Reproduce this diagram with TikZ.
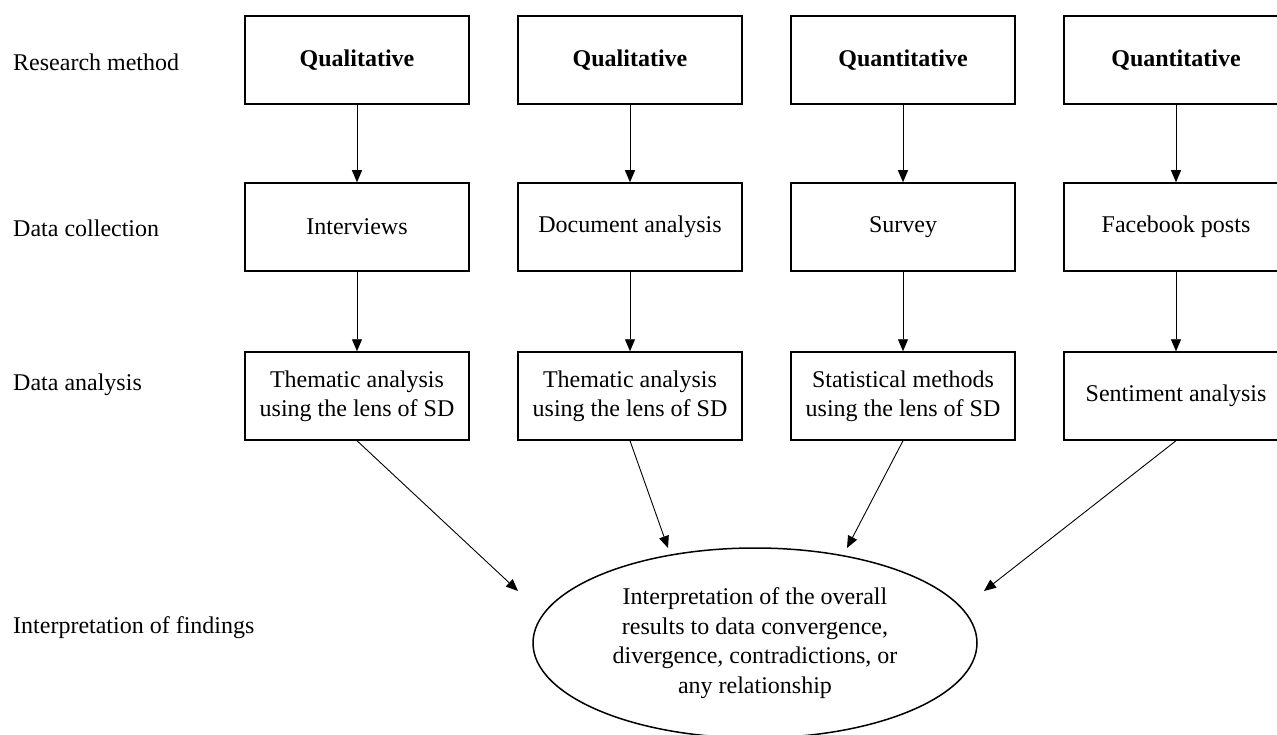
\documentclass[tikz,border=0pt]{standalone}
\usepackage{fontspec}
\setmainfont{Liberation Serif}
\usetikzlibrary{arrows.meta,shapes.geometric}
\begin{document}
\begin{tikzpicture}[x=1pt,y=-1pt,
  every node/.style={font=\fontsize{24}{28}\selectfont},
  rowlabel/.style={anchor=west,inner sep=0pt},
  stagebox/.style={draw,line width=1.5pt,minimum width=224pt,minimum height=88pt,
    inner sep=2pt,align=center,font=\fontsize{24}{29}\selectfont},
  flow/.style={line width=0.9pt,-{Triangle[length=12pt,width=10pt]}},
  result/.style={draw,ellipse,line width=1.5pt,minimum width=444pt,minimum height=190pt,
    inner sep=0pt,align=center,font=\fontsize{24}{29.5}\selectfont}]
\clip (0,0) rectangle (1277,735);
\fill[white] (0,0) rectangle (1277,735);

% row labels
\node[rowlabel] (lm) at (13,62) {Research method};
\node[rowlabel] (lc) at (13,228) {Data collection};
\node[rowlabel] (la) at (13,385) {Data analysis};
\node[rowlabel] (li) at (13,628) {Interpretation of findings};

% research method
\node[stagebox] (m1) at (357,60) {\textbf{Qualitative}};
\node[stagebox] (m2) at (630,60) {\textbf{Qualitative}};
\node[stagebox] (m3) at (903,60) {\textbf{Quantitative}};
\node[stagebox] (m4) at (1176,60) {\textbf{Quantitative}};

% data collection
\node[stagebox] (c1) at (357,227) {Interviews};
\node[stagebox] (c2) at (630,227) {Document analysis};
\node[stagebox] (c3) at (903,227) {Survey};
\node[stagebox] (c4) at (1176,227) {Facebook posts};

% data analysis
\node[stagebox] (a1) at (357,396) {Thematic analysis\\using the lens of SD};
\node[stagebox] (a2) at (630,396) {Thematic analysis\\using the lens of SD};
\node[stagebox] (a3) at (903,396) {Statistical methods\\using the lens of SD};
\node[stagebox] (a4) at (1176,396) {Sentiment analysis};

% interpretation
\node[result] (res) at (755,643) {Interpretation of the overall\\results to data convergence,\\divergence, contradictions, or\\any relationship};

\foreach \i in {1,2,3,4}{
  \draw[flow] (m\i) -- (c\i);
  \draw[flow] (c\i) -- (a\i);
}

% arrow tips stop short of the ellipse
\coordinate (t1) at (518,591);
\coordinate (t2) at (668,548);
\coordinate (t3) at (847,548);
\coordinate (t4) at (984,591);
\draw[flow] (a1.south) -- (t1);
\draw[flow] (a2.south) -- (t2);
\draw[flow] (a3.south) -- (t3);
\draw[flow] (a4.south) -- (t4);
\end{tikzpicture}
\end{document}
